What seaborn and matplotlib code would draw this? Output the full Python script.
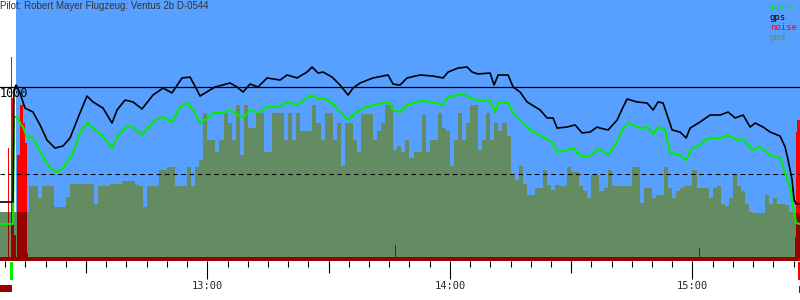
import numpy as np
import matplotlib
matplotlib.use("Agg")
import matplotlib.pyplot as plt
import matplotlib.transforms as mtransforms
from matplotlib.patches import Rectangle
import seaborn as sns

# ---------------- data (time in minutes after 12:00, altitude in m) ----------------
title = "Pilot: Robert Mayer Flugzeug: Ventus 2b D-0544"

gps_t = [8.7, 11.93, 12.17, 12.67, 13.66, 14.89, 16.87, 18.61, 20.34, 22.32, 24.30, 26.03,
         28.50, 30.23, 31.72, 34.19, 36.42, 37.66, 39.64, 41.61, 43.84, 46.56, 49.04, 51.26,
         53.74, 55.72, 57.45, 58.19, 60.66, 61.90, 65.61, 67.35, 68.83, 70.56, 72.54, 74.77,
         77.98, 79.71, 82.19, 84.66, 85.90, 87.38, 88.62, 90.85, 92.83, 94.81, 96.04, 97.78,
         100.99, 104.70, 105.94, 107.67, 109.40, 112.62, 115.83, 118.31, 119.55, 122.02,
         124.25, 125.48, 126.97, 129.94, 130.93, 131.92, 134.39, 135.63, 137.36, 139.09,
         142.31, 144.04, 145.52, 146.51, 148.99, 150.97, 152.70, 154.68, 156.41, 157.15,
         159.13, 161.36, 162.84, 163.83, 166.31, 168.78, 170.27, 171.50, 172.74, 173.98,
         174.97, 176.94, 178.43, 179.42, 181.90, 184.37, 186.84, 188.82, 190.55, 192.53,
         194.26, 195.50, 197.48, 199.21, 201.68, 202.92, 203.66, 204.65, 205.14, 205.64, 206.6]
gps_alt = [339, 339, 983, 1011, 966, 879, 856, 782, 695, 649, 661, 707,
           851, 948, 914, 879, 793, 868, 925, 914, 874, 954, 994, 966,
           1052, 1057, 983, 948, 983, 1000, 1023, 1000, 971, 1017, 1000, 1052,
           1040, 1069, 1052, 1086, 1115, 1080, 1086, 1057, 1011, 954, 994, 1023,
           1052, 1069, 1017, 1011, 1052, 1069, 1063, 1052, 1086, 1109,
           1115, 1086, 1075, 1080, 1011, 1069, 1069, 1000, 971, 914,
           868, 822, 822, 764, 770, 782, 736, 741, 770, 764,
           753, 810, 885, 931, 914, 908, 868, 914, 908, 822,
           753, 741, 707, 764, 799, 839, 839, 856, 822, 839,
           770, 793, 770, 741, 718, 655, 580, 466, 351, 328, 328]

baro_t = [8.7, 11.93, 12.17, 12.92, 13.66, 14.40, 15.39, 16.87, 18.11, 19.35, 21.08, 22.81,
          24.30, 26.52, 28.50, 30.23, 31.72, 33.94, 36.42, 37.90, 40.13, 41.61, 43.84, 47.06,
          49.04, 51.26, 53.24, 55.22, 56.95, 58.19, 60.66, 61.41, 63.88, 65.61, 67.59, 68.83,
          70.56, 72.54, 74.77, 77.98, 79.71, 82.19, 84.66, 85.90, 87.38, 88.62, 90.85, 92.83,
          94.81, 96.04, 98.27, 100.99, 104.70, 105.94, 107.67, 109.40, 112.62, 115.83, 118.31,
          119.55, 123.26, 124.50, 126.72, 129.94, 131.17, 131.92, 134.39, 135.63, 137.85,
          140.58, 143.05, 145.28, 146.51, 148.99, 150.47, 152.70, 155.17, 156.41, 157.15,
          159.13, 160.86, 162.84, 164.08, 167.05, 169.03, 170.27, 171.50, 173.23, 174.47,
          176.94, 178.43, 179.91, 181.90, 183.87, 186.84, 188.82, 191.04, 192.53, 194.76,
          196.73, 199.21, 201.68, 202.92, 204.16, 204.90, 205.64, 206.6]
baro_alt = [213, 213, 828, 828, 793, 770, 713, 707, 655, 598, 534, 511,
            534, 609, 736, 793, 764, 724, 649, 724, 770, 770, 724, 810,
            828, 799, 885, 908, 851, 793, 828, 851, 851, 868, 839, 822,
            868, 851, 885, 885, 914, 897, 937, 954, 931, 937, 908, 856,
            810, 839, 874, 897, 914, 868, 856, 897, 920, 914, 897,
            943, 960, 943, 925, 920, 856, 914, 908, 851, 799,
            741, 713, 684, 626, 638, 649, 598, 609, 644, 638,
            609, 667, 764, 793, 764, 770, 730, 770, 753, 621,
            609, 580, 649, 667, 707, 707, 724, 695, 701, 638,
            655, 609, 592, 506, 425, 310, 218, 213]

# ground elevation, one value per minute starting at 12:08
gnd_start = 8
gnd = [282, 282, 282, 282, 282, 282, 282, 282,
       431, 431, 362, 431, 431, 431,
       310, 310, 310, 367,
       443, 443, 443, 443, 443, 443,
       328, 431, 431, 431, 443, 443, 443, 460, 460, 460, 437, 431, 310,
       431, 431, 431, 523, 523, 540, 540, 431, 431, 431, 540, 431, 540, 580, 851,
       695, 695, 626, 695, 851, 793, 695, 897, 610, 897, 764, 764, 851, 851, 626, 626,
       851, 851, 851, 695, 851, 695, 851, 747, 747, 747, 897, 793, 695, 851, 851, 695,
       793, 546, 793, 793, 695, 626, 845, 845, 845, 695, 747, 793, 897, 897, 640, 660,
       626, 695, 592, 626, 626, 839, 626, 695, 695, 851, 764, 747, 546, 695, 851, 695,
       793, 897, 897, 640, 695, 851, 695, 793, 747, 793, 720, 494, 465, 546, 440, 379,
       380, 420, 420, 523, 437, 410, 437, 431, 431, 540, 511, 511, 431, 400, 362, 494,
       494, 400,
       420, 523, 431, 431, 431, 431, 431, 540, 540, 333, 420, 420, 362, 379, 379, 540,
       420, 362, 400, 420, 431, 431, 523, 420, 420, 420, 362, 420, 431, 330, 316, 360,
       500, 431, 400, 330, 282, 276, 276, 276, 379, 330, 360, 330, 330, 320, 282, 276,
       276, 276]

noise_t = [8.7, 10.69, 10.94, 11.43, 11.68, 12.17, 12.67, 12.92, 13.66, 14.40, 14.89, 15.39,
           15.64, 106.43, 106.68, 181.64, 181.90, 205.39, 205.64, 205.89, 206.6]
noise_v = [23, 650, 23, 1172, 937, 150, 23, 609, 897, 793, 678, 46,
           23, 92, 23, 75, 23, 138, 741, 810, 810]

record_start = 12.67          # start of the recorded flight (blue sky area)
takeoff_mark = (11.18, 11.93) # green marker under the axis
engine_mark = (8.71, 11.68)   # dark red marker under the axis
landing_mark = (206.1, 206.6)

ref_lines = [1000, 500]
hour_ticks = [60, 120, 180]
hour_labels = ["13:00", "14:00", "15:00"]
half_ticks = [30, 90, 150]
minor_ticks = list(range(10, 206, 5))

legend_names = ["baro", "gps", "noise", "gnd"]

# ---------------- style ----------------
SKY = "#58a0ff"
GND = "#638c63"
BARO = "#00ee00"
GPS = "#000000"
NOISE = "#ff0000"
NOISE_DARK = "#990000"
legend_colors = [BARO, GPS, NOISE, GND]

sns.set_style("white")
plt.rcParams["font.family"] = ["DejaVu Sans Mono"]

fig = plt.figure(figsize=(8, 3), dpi=100)
ax = fig.add_axes([0, 39 / 300, 1, 261 / 300])
xmin, xmax = 8.71, 206.6
ax.set_facecolor("white")
for s in ax.spines.values():
    s.set_visible(False)

ax.axvspan(record_start, xmax, color=SKY, lw=0, zorder=0)

gnd_t = np.arange(gnd_start, gnd_start + len(gnd))
ax.fill_between(noise_t, noise_v, 0, step="post", color=NOISE, lw=0, zorder=1)
gpoly = ax.fill_between(gnd_t, gnd, 0, step="post", color=GND, lw=0, zorder=2)
dark = ax.fill_between(noise_t, noise_v, 0, step="post", color=NOISE_DARK, lw=0, zorder=3)
dark.set_clip_path(gpoly.get_paths()[0], ax.transData)

ax.axhline(ref_lines[0], color="black", lw=0.9, zorder=3.5)
ax.axhline(ref_lines[1], color="black", lw=0.8, ls=(0, (4.0, 3.4)), zorder=3.5)

sns.lineplot(x=baro_t, y=baro_alt, ax=ax, color=BARO, lw=1.5, estimator=None, sort=False, zorder=5)
sns.lineplot(x=gps_t, y=gps_alt, ax=ax, color=GPS, lw=1.2, estimator=None, sort=False, zorder=6)

ax.set_xlim(xmin, xmax)
ax.set_ylim(0, 1500)
ax.set_xlabel("")
ax.set_ylabel("")
ax.set_yticks([])

ax.set_xticks(hour_ticks)
ax.set_xticklabels(hour_labels)
ax.set_xticks(minor_ticks, minor=True)
ax.tick_params(axis="x", which="major", bottom=True, length=13, width=0.8, color="black",
               pad=1.5, labelsize=7.5, direction="out")
ax.tick_params(axis="x", which="minor", bottom=True, length=4.3, width=0.8, color="black",
               direction="out")
sec = ax.secondary_xaxis("bottom")
sec.set_xticks(half_ticks)
sec.set_xticklabels([""] * len(half_ticks))
sec.tick_params(axis="x", length=8.6, width=0.8, color="black", direction="out")
sec.spines["bottom"].set_visible(False)

ax.text(xmin, ref_lines[0], "1000", ha="left", va="top", fontsize=8.5, color="black", zorder=7)

# markers below the axis
blend = mtransforms.blended_transform_factory(ax.transData, ax.transAxes)
ax.add_patch(Rectangle((takeoff_mark[0], -0.0728), takeoff_mark[1] - takeoff_mark[0], 0.069,
                       transform=blend, color=BARO, lw=0, clip_on=False))
ax.add_patch(Rectangle((engine_mark[0], -0.119), engine_mark[1] - engine_mark[0], 0.027,
                       transform=blend, color=NOISE_DARK, lw=0, clip_on=False))
ax.add_patch(Rectangle((landing_mark[0], -0.0728), landing_mark[1] - landing_mark[0], 0.069,
                       transform=blend, color=NOISE, lw=0, clip_on=False))
ax.add_patch(Rectangle((landing_mark[0] + 0.25, -0.123), 0.25, 0.027,
                       transform=blend, color=NOISE_DARK, lw=0, clip_on=False))

fig.text(0.0, 1 - 1 / 300, title, ha="left", va="top", fontsize=7,
         family=["Liberation Sans"], color="#333333")
for i, (name, col) in enumerate(zip(legend_names, legend_colors)):
    fig.text(770 / 800, 1 - (7 + 10 * i) / 300, name, ha="left", va="center",
             fontsize=6.5, color=col)

fig.savefig("out.png", dpi=100)
